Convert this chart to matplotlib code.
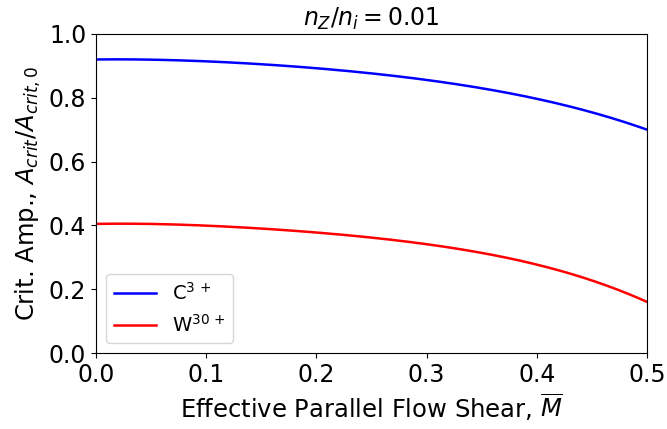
import matplotlib
matplotlib.use('Agg')
import matplotlib.pyplot as plt
import numpy as np

# flow shear values and critical amplitude ratios
M_bar = [0.0, 0.05, 0.1, 0.15, 0.2, 0.25, 0.3, 0.35, 0.4, 0.45, 0.5]
A_C3 = [0.920, 0.919, 0.914, 0.905, 0.893, 0.876, 0.855, 0.830, 0.797, 0.754, 0.700]
A_W30 = [0.405, 0.404, 0.399, 0.390, 0.379, 0.362, 0.340, 0.313, 0.278, 0.228, 0.160]

# smooth the curves a bit (same points, just a finer line through them)
xf = np.linspace(0, 0.5, 200)
blue = np.polyval(np.polyfit(M_bar, A_C3, 4), xf)
red = np.polyval(np.polyfit(M_bar, A_W30, 4), xf)

fig = plt.figure(figsize=(6.67, 4.29), dpi=100)
ax = fig.add_axes([0.144, 0.177, 0.826, 0.744])

ax.plot(xf, blue, color='blue', lw=1.8, label=r'C$^{3\,+}$')
ax.plot(xf, red, color='red', lw=1.8, label=r'W$^{30\,+}$')

ax.set_xlim(0, 0.5)
ax.set_ylim(0, 1.0)
ax.set_xticks([0.0, 0.1, 0.2, 0.3, 0.4, 0.5])
ax.set_yticks([0.0, 0.2, 0.4, 0.6, 0.8, 1.0])
ax.tick_params(labelsize=17)
ax.set_xlabel(r'Effective Parallel Flow Shear, $\overline{M}$', fontsize=17.5)
ax.set_ylabel(r'Crit. Amp., $A_{crit}/A_{crit,0}$', fontsize=17.5)
ax.set_title(r'$n_Z/n_i = 0.01$', fontsize=17)
ax.legend(loc='lower left', fontsize=14, handlelength=2.2)

fig.savefig('out.png', dpi=100)
